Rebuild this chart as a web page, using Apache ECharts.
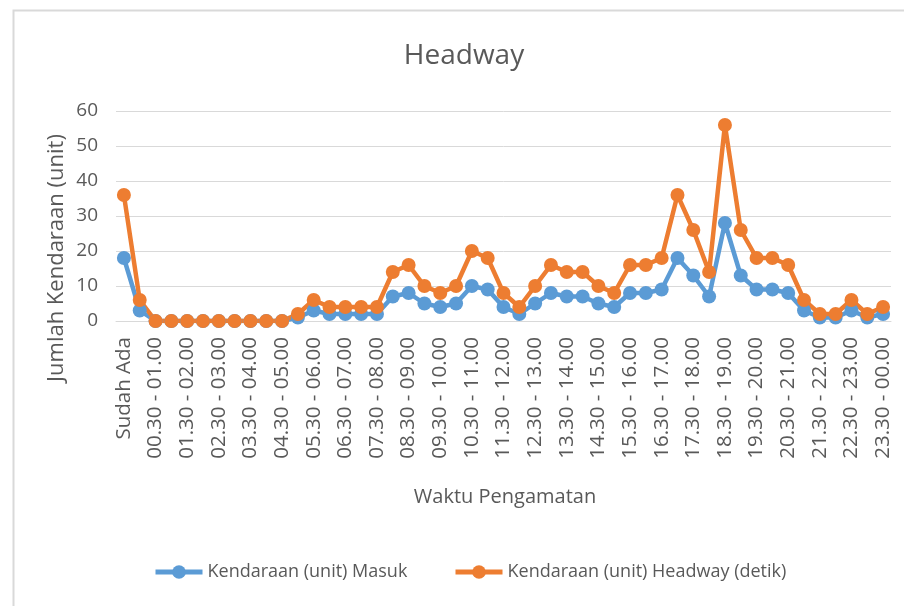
<!DOCTYPE html>
<html>
<head>
<meta charset="utf-8">
<script src="https://cdn.jsdelivr.net/npm/echarts@6/dist/echarts.min.js"></script>
<style>
html,body{margin:0;padding:0;background:#fff;}
#chart{width:904px;height:606px;}
</style>
</head>
<body>
<div id="chart"></div>
<script>
var categories = [
  "Sudah Ada",
  "00.00 - 00.30","00.30 - 01.00","01.00 - 01.30","01.30 - 02.00",
  "02.00 - 02.30","02.30 - 03.00","03.00 - 03.30","03.30 - 04.00",
  "04.00 - 04.30","04.30 - 05.00","05.00 - 05.30","05.30 - 06.00",
  "06.00 - 06.30","06.30 - 07.00","07.00 - 07.30","07.30 - 08.00",
  "08.00 - 08.30","08.30 - 09.00","09.00 - 09.30","09.30 - 10.00",
  "10.00 - 10.30","10.30 - 11.00","11.00 - 11.30","11.30 - 12.00",
  "12.00 - 12.30","12.30 - 13.00","13.00 - 13.30","13.30 - 14.00",
  "14.00 - 14.30","14.30 - 15.00","15.00 - 15.30","15.30 - 16.00",
  "16.00 - 16.30","16.30 - 17.00","17.00 - 17.30","17.30 - 18.00",
  "18.00 - 18.30","18.30 - 19.00","19.00 - 19.30","19.30 - 20.00",
  "20.00 - 20.30","20.30 - 21.00","21.00 - 21.30","21.30 - 22.00",
  "22.00 - 22.30","22.30 - 23.00","23.00 - 23.30","23.30 - 00.00"
];
var masuk = [18,3,0,0,0,0,0,0,0,0,0,1,3,2,2,2,2,7,8,5,4,5,10,9,4,2,5,8,7,7,5,4,8,8,9,18,13,7,28,13,9,9,8,3,1,1,3,1,2];
var headway = [36,6,0,0,0,0,0,0,0,0,0,2,6,4,4,4,4,14,16,10,8,10,20,18,8,4,10,16,14,14,10,8,16,16,18,36,26,14,56,26,18,18,16,6,2,2,6,2,4];
var seriesNames = ["Kendaraan (unit) Masuk", "Kendaraan (unit) Headway (detik)"];
var yTicks = {min: 0, max: 60, interval: 10};
var titleText = "Headway";
var xAxisName = "Waktu Pengamatan";
var yAxisName = "Jumlah Kendaraan (unit)";

var FONT = "Open Sans";
var TXT = "#595959";
var chart = echarts.init(document.getElementById('chart'), null, {renderer: 'canvas'});
chart.setOption({
  animation: false,
  backgroundColor: '#ffffff',
  title: {
    text: titleText, left: 459, top: 37, textAlign: 'center',
    textStyle: {fontFamily: FONT, fontSize: 28, fontWeight: 'normal', color: TXT}
  },
  graphic: [
    {type: 'rect', left: 11, top: 8, silent: true, z: -1,
     shape: {width: 1000, height: 1000},
     style: {fill: 'none', stroke: '#d9d9d9', lineWidth: 2}},
    {type: 'text', x: 57, y: 258, rotation: Math.PI / 2,
     style: {text: yAxisName, fontFamily: FONT, fontSize: 22, fill: TXT,
             align: 'center', verticalAlign: 'middle'}},
    {type: 'text', x: 505, y: 497,
     style: {text: xAxisName, fontFamily: FONT, fontSize: 20, fill: TXT,
             align: 'center', verticalAlign: 'middle'}}
  ],
  legend: [
    {data: [seriesNames[0]], left: 148, top: 558, itemWidth: 47, itemHeight: 17,
     lineStyle: {width: 5},
     textStyle: {fontFamily: FONT, fontSize: 18, color: TXT}},
    {data: [seriesNames[1]], left: 448, top: 558, itemWidth: 47, itemHeight: 17,
     lineStyle: {width: 5},
     textStyle: {fontFamily: FONT, fontSize: 18, color: TXT}}
  ],
  grid: {left: 116, top: 111, width: 775, height: 210, containLabel: false},
  xAxis: {
    type: 'category', data: categories, boundaryGap: true,
    axisLine: {show: true, lineStyle: {color: '#d9d9d9', width: 1}},
    axisTick: {show: false},
    axisLabel: {interval: 1, rotate: 90, margin: 16, fontFamily: FONT, fontSize: 20.5, color: TXT}
  },
  yAxis: {
    type: 'value', min: yTicks.min, max: yTicks.max, interval: yTicks.interval,
    axisLine: {show: false}, axisTick: {show: false},
    splitLine: {lineStyle: {color: '#d9d9d9', width: 1}},
    axisLabel: {margin: 18, fontFamily: FONT, fontSize: 19, color: TXT}
  },
  series: [
    {name: seriesNames[0], type: 'line', data: masuk, symbol: 'circle', symbolSize: 14,
     showAllSymbol: true, color: '#5B9BD5',
     lineStyle: {width: 4.5, color: '#5B9BD5'}, itemStyle: {color: '#5B9BD5'}},
    {name: seriesNames[1], type: 'line', data: headway, symbol: 'circle', symbolSize: 14,
     showAllSymbol: true, color: '#ED7D31',
     lineStyle: {width: 4.5, color: '#ED7D31'}, itemStyle: {color: '#ED7D31'}}
  ]
});
</script>
</body>
</html>
